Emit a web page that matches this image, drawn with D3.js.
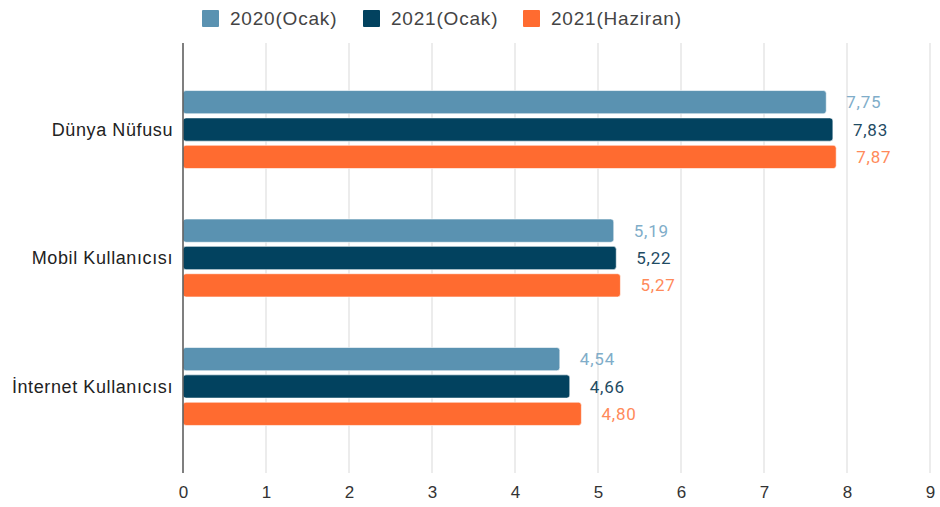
<!DOCTYPE html>
<html>
<head>
<meta charset="utf-8">
<script src="https://cdn.jsdelivr.net/npm/d3@7"></script>
<style>
	body { margin: 0; background: #fff; }
	svg { display: block; }
</style>
</head>
<body>
<svg id="chart" width="940" height="507"></svg>
<script>
const categories = ['Dünya Nüfusu', 'Mobil Kullanıcısı', 'İnternet Kullanıcısı'];
const seriesNames = ['2020(Ocak)', '2021(Ocak)', '2021(Haziran)'];
const values2020Ocak = [7.75, 5.19, 4.54];
const values2021Ocak = [7.83, 5.22, 4.66];
const values2021Haziran = [7.87, 5.27, 4.80];
const xTicks = [0, 1, 2, 3, 4, 5, 6, 7, 8, 9];

const barColors = ['#5a92b1', '#02425f', '#ff6b30'];
const labelColors = ['#80adc9', '#1f4b63', '#ff8a5a'];

const allSeries = [values2020Ocak, values2021Ocak, values2021Haziran];

const svg = d3.select('#chart');
const plotLeft = 183;
const plotRight = 930;
const plotTop = 43;
const plotBottom = 473;

const x = d3.scaleLinear().domain([0, 9]).range([plotLeft, plotRight]);
const y = d3.scaleBand().domain(categories).range([plotTop, plotBottom]).paddingInner(0.393).paddingOuter(0.37);
const yInner = d3.scaleBand().domain(d3.range(seriesNames.length)).range([0, y.bandwidth()]).paddingInner(0.15);

// grid
svg.append('g')
	.selectAll('line')
	.data(xTicks.filter((d) => d !== 0))
	.enter()
	.append('line')
	.attr('x1', (d) => x(d))
	.attr('x2', (d) => x(d))
	.attr('y1', plotTop)
	.attr('y2', plotBottom)
	.attr('stroke', '#d9d9d9')
	.attr('stroke-width', 1);

// x axis labels
const xAxis = d3.axisBottom(x).tickValues(xTicks).tickSize(0).tickPadding(13);
const xg = svg.append('g').attr('transform', 'translate(0,' + plotBottom + ')').call(xAxis);
xg.select('.domain').remove();
xg.selectAll('text')
	.style('font-family', 'Liberation Sans, Arial, sans-serif')
	.style('font-size', '17px')
	.attr('fill', '#333');

// bars
const groups = svg.append('g')
	.selectAll('g')
	.data(categories)
	.enter()
	.append('g')
	.attr('transform', (d) => 'translate(0,' + y(d) + ')');

groups.each(function (cat, ci) {
	const g = d3.select(this);
	allSeries.forEach((series, si) => {
		const v = series[ci];
		g.append('rect')
			.attr('x', x(0))
			.attr('y', yInner(si))
			.attr('width', x(v) - x(0))
			.attr('height', yInner.bandwidth())
			.attr('rx', 3)
			.attr('fill', barColors[si])
			.attr('stroke', '#ffffff')
			.attr('stroke-opacity', 0.6)
			.attr('stroke-width', 1);
		g.append('text')
			.attr('x', x(v) + 20)
			.attr('y', yInner(si) + yInner.bandwidth() / 2)
			.attr('dy', '0.36em')
			.text(v.toFixed(2).replace('.', ','))
			.attr('fill', labelColors[si])
			.style('font-family', 'Roboto, sans-serif')
			.style('font-size', '17px')
			.style('letter-spacing', '0.8px');
	});
});

// category labels
svg.append('g')
	.selectAll('text')
	.data(categories)
	.enter()
	.append('text')
	.attr('x', 173)
	.attr('y', (d) => y(d) + y.bandwidth() / 2)
	.attr('dy', '0.36em')
	.attr('text-anchor', 'end')
	.text((d) => d)
	.attr('fill', '#222')
	.style('font-family', 'Liberation Sans, Arial, sans-serif')
	.style('font-size', '18px')
	.style('letter-spacing', '0.6px');

// zero axis
svg.append('line')
	.attr('x1', x(0))
	.attr('x2', x(0))
	.attr('y1', plotTop)
	.attr('y2', plotBottom)
	.attr('stroke', '#555')
	.attr('stroke-width', 1.5);

// legend
const legendX = [202, 363, 523];
const legend = svg.append('g')
	.selectAll('g')
	.data(seriesNames)
	.enter()
	.append('g')
	.attr('transform', (d, i) => 'translate(' + legendX[i] + ',10)');

legend.append('rect')
	.attr('width', 17)
	.attr('height', 17)
	.attr('rx', 1)
	.attr('fill', (d, i) => barColors[i]);

legend.append('text')
	.attr('x', 28)
	.attr('y', 8.5)
	.attr('dy', '0.36em')
	.text((d) => d)
	.attr('fill', '#444')
	.style('font-family', 'Liberation Sans, Arial, sans-serif')
	.style('font-size', '19px')
	.style('letter-spacing', '0.8px');
</script>
</body>
</html>
